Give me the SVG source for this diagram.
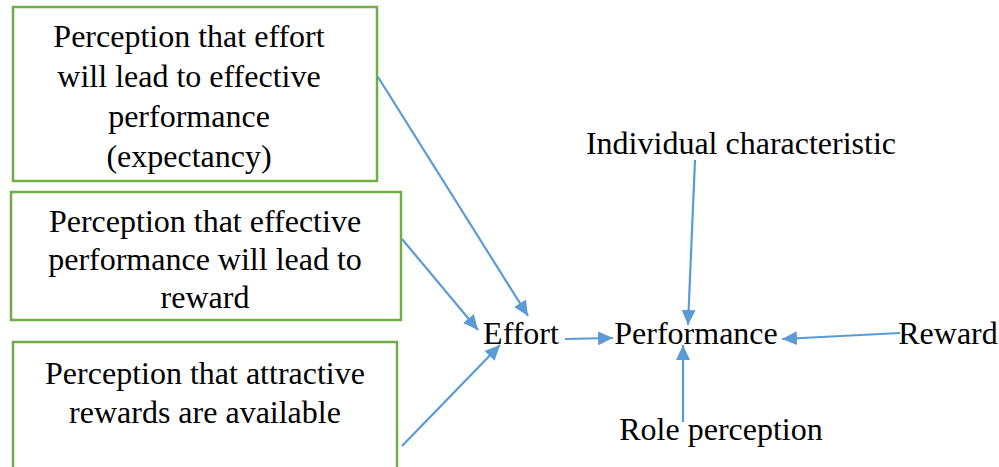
<svg xmlns="http://www.w3.org/2000/svg" width="999" height="467" viewBox="0 0 999 467">
  <style>
    .box { fill: #ffffff; stroke: #70AD47; stroke-width: 2.5; }
    .t { font-size: 32px; fill: #000000; text-anchor: middle; }
    .edge { stroke: #5B9BD5; stroke-width: 2.2; fill: none; marker-end: url(#arrow); }
  </style>
  <defs>
    <marker id="arrow" markerUnits="userSpaceOnUse" markerWidth="16" markerHeight="14" refX="15" refY="7" orient="auto">
      <path d="M0,0 L15,7 L0,14 Z" fill="#5B9BD5"/>
    </marker>
  </defs>
  <rect width="999" height="467" fill="#ffffff"/>

  <g id="expectancy">
    <rect class="box" x="13" y="7" width="364" height="174"/>
    <text class="t" font-family="Liberation Serif, serif" x="189" y="47">Perception that effort</text>
    <text class="t" font-family="Liberation Serif, serif" x="189" y="87">will lead to effective</text>
    <text class="t" font-family="Liberation Serif, serif" x="189" y="127">performance</text>
    <text class="t" font-family="Liberation Serif, serif" x="189" y="167">(expectancy)</text>
  </g>

  <g id="instrumentality">
    <rect class="box" x="11" y="192" width="390" height="128"/>
    <text class="t" font-family="Liberation Serif, serif" x="205" y="232">Perception that effective</text>
    <text class="t" font-family="Liberation Serif, serif" x="205" y="270">performance will lead to</text>
    <text class="t" font-family="Liberation Serif, serif" x="205" y="308">reward</text>
  </g>

  <g id="valence">
    <rect class="box" x="13" y="342" width="384" height="140"/>
    <text class="t" font-family="Liberation Serif, serif" x="205" y="384">Perception that attractive</text>
    <text class="t" font-family="Liberation Serif, serif" x="205" y="423">rewards are available</text>
  </g>

  <g id="effort">
    <text class="t" font-family="Liberation Serif, serif" x="521" y="344">Effort</text>
  </g>
  <g id="performance">
    <text class="t" font-family="Liberation Serif, serif" x="696" y="344">Performance</text>
  </g>
  <g id="individual">
    <text class="t" font-family="Liberation Serif, serif" x="741" y="154">Individual characteristic</text>
  </g>
  <g id="reward">
    <text class="t" font-family="Liberation Serif, serif" x="948" y="344">Reward</text>
  </g>
  <g id="role">
    <text class="t" font-family="Liberation Serif, serif" x="721" y="440">Role perception</text>
  </g>

  <g id="connectors">
    <line class="edge" x1="378" y1="77" x2="528" y2="316"/>
    <line class="edge" x1="402" y1="239" x2="478" y2="330"/>
    <line class="edge" x1="402" y1="446" x2="500" y2="345"/>
    <line class="edge" x1="565" y1="339" x2="613" y2="338"/>
    <line class="edge" x1="695" y1="160" x2="688" y2="325"/>
    <line class="edge" x1="683" y1="422" x2="683" y2="345"/>
    <line class="edge" x1="900" y1="333" x2="782" y2="339"/>
  </g>
</svg>
